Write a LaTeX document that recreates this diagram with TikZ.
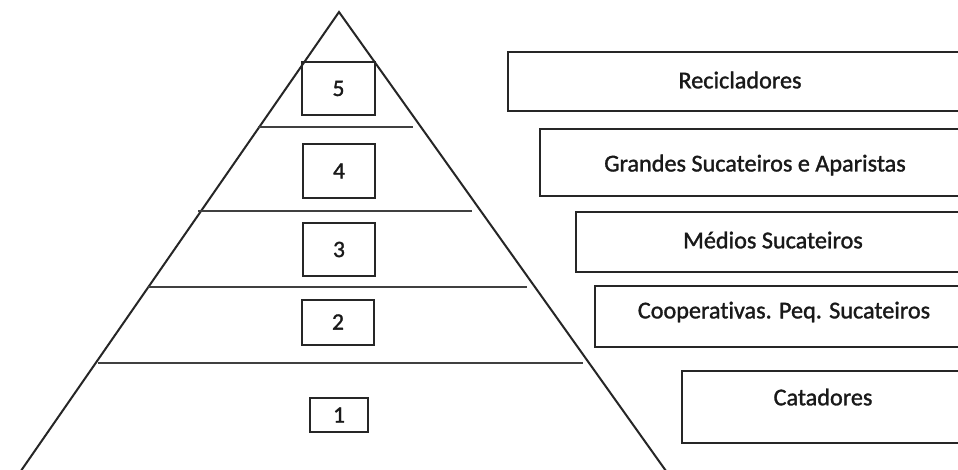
\documentclass[tikz,border=0pt]{standalone}
\usepackage{fontspec}
\setmainfont[Ligatures=NoCommon,FakeBold=1.3]{Carlito}
\begin{document}
\begin{tikzpicture}[x=1pt,y=-1pt,
  edge/.style={draw=black!85,line width=2pt},
  level/.style={draw=black!75,line width=2.1pt},
  numbox/.style={draw=black!85,line width=2pt,inner sep=0pt,font=\fontsize{23.5}{26}\selectfont,text=black!90},
  rolebox/.style={draw=black!85,line width=2pt,inner sep=0pt},
  roletext/.style={font=\fontsize{24.2}{26}\selectfont,text=black!90,inner sep=0pt}]
\useasboundingbox (0,0) rectangle (958,470);
\clip (0,0) rectangle (958,470);
\fill[white] (0,0) rectangle (958,470);
% pyramid
\coordinate (apex) at (339,12);
\coordinate (bl) at (16,478);
\coordinate (br) at (671,478);
\draw[edge,line join=miter] (bl) -- (apex) -- (br);
% level lines
\draw[level] (258,127) -- (413,127);
\draw[level] (198,211) -- (472,211);
\draw[level] (148,287) -- (527,287);
\draw[level] (98,363) -- (583,363);
% number boxes
\node[numbox,minimum width=73pt,minimum height=53pt] (n5) at (338.5,88.5) {5};
\node[numbox,minimum width=72pt,minimum height=54pt] (n4) at (339,171) {4};
\node[numbox,minimum width=72pt,minimum height=53pt] (n3) at (339,249.5) {3};
\node[numbox,minimum width=72pt,minimum height=45pt] (n2) at (338,322) {2};
\node[numbox,minimum width=58pt,minimum height=34pt] (n1) at (339,415) {1};
% role boxes
\node[rolebox,minimum width=462pt,minimum height=59pt] (r5) at (739,81.5) {};
\node[rolebox,minimum width=430pt,minimum height=67pt] (r4) at (755,162.5) {};
\node[rolebox,minimum width=394pt,minimum height=60pt] (r3) at (773,242) {};
\node[rolebox,minimum width=376pt,minimum height=61pt] (r2) at (783,316.5) {};
\node[rolebox,minimum width=282pt,minimum height=72pt] (r1) at (823,407) {};
\node[roletext] (t5) at (740,80) {Recicladores};
\node[roletext] (t4) at (755,165) {Grandes Sucateiros e Aparistas};
\node[roletext] (t3) at (773,240) {Médios Sucateiros};
\node[roletext] (t2) at (784,312) {Cooperativas. Peq. Sucateiros};
\node[roletext] (t1) at (823,397) {Catadores};
\end{tikzpicture}
\end{document}
